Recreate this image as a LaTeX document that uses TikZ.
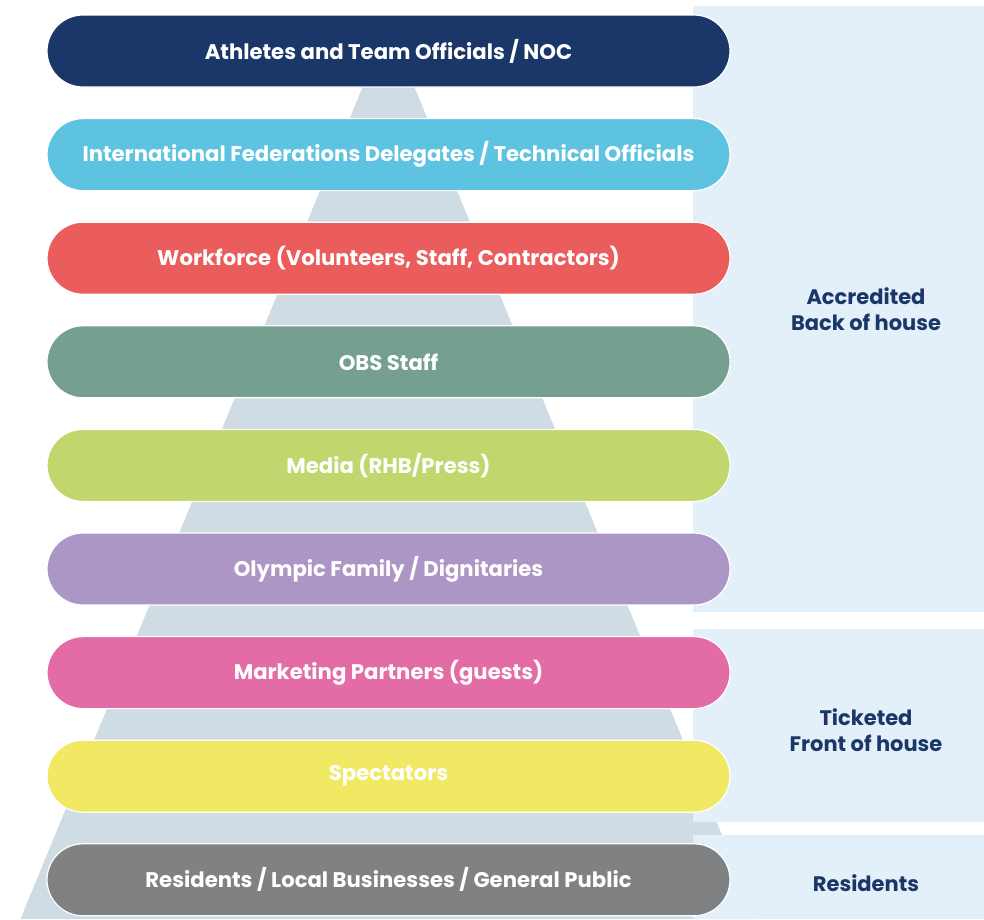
\documentclass[tikz,border=0pt]{standalone}
\usepackage{fontspec}
\setmainfont{Poppins}
\usetikzlibrary{positioning}

\definecolor{navy}{HTML}{1B3769}
\definecolor{sky}{HTML}{5EC3E1}
\definecolor{coral}{HTML}{EB5D5D}
\definecolor{sage}{HTML}{759F8F}
\definecolor{lime}{HTML}{C1D66C}
\definecolor{lavender}{HTML}{AC96C6}
\definecolor{pinkish}{HTML}{E46CA6}
\definecolor{lemon}{HTML}{F1E964}
\definecolor{stone}{HTML}{808183}
\definecolor{pyramid}{HTML}{CFDCE4}
\definecolor{panel}{HTML}{E3F0F9}

\begin{document}
\begin{tikzpicture}[x=1pt, y=-1pt,
    bar/.style={rectangle, rounded corners=36pt, draw=white, line width=1.2pt,
      minimum width=683pt, minimum height=72pt, inner sep=0pt, outer sep=0pt,
      text=white, font=\fontsize{21.2}{25}\selectfont\bfseries},
    group/.style={align=center, text=navy, font=\fontsize{21}{25.5}\selectfont\bfseries},
    ]
      \useasboundingbox (0,0) rectangle (984,919);

      %Background
      \fill[pyramid] (388.5,24) -- (20.5,919) -- (756.5,919) -- cycle;
      \fill[panel] (693,6) rectangle (984,612);
      \fill[panel] (693,629) rectangle (984,822);
      \fill[panel] (693,835) rectangle (984,919);

      %Nodes
      \node[bar, fill=navy]     (athletes)    at (388.5,51)              {Athletes and Team Officials / NOC};
      \node[bar, fill=sky]      (federations) [below=31.6pt of athletes]    {International Federations Delegates / Technical Officials};
      \node[bar, fill=coral]    (workforce)   [below=31.6pt of federations] {Workforce (Volunteers, Staff, Contractors)};
      \node[bar, fill=sage]     (obs)         [below=31.6pt of workforce]   {OBS Staff};
      \node[bar, fill=lime]     (media)       [below=31.6pt of obs]         {Media (RHB/Press)};
      \node[bar, fill=lavender] (family)      [below=31.6pt of media]       {Olympic Family / Dignitaries};
      \node[bar, fill=pinkish]  (partners)    [below=31.6pt of family]      {Marketing Partners (guests)};
      \node[bar, fill=lemon]    (spectators)  [below=31.6pt of partners]    {Spectators};
      \node[bar, fill=stone]    (residents)   [below=31.6pt of spectators]  {Residents / Local Businesses / General Public};

      %Groups
      \node[group] (accredited) at (866,309) {Accredited\\Back of house};
      \node[group] (ticketed)   at (866,730) {Ticketed\\Front of house};
      \node[group] (locals)     at (866,883) {Residents};
\end{tikzpicture}
\end{document}
